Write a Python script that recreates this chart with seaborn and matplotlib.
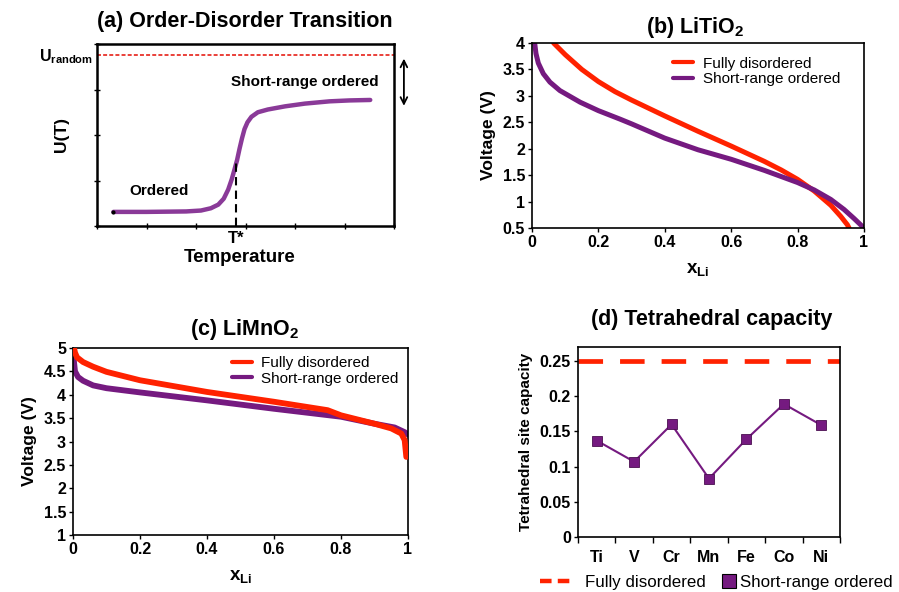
import numpy as np
import pandas as pd
import matplotlib
matplotlib.use("Agg")
import matplotlib.pyplot as plt
import seaborn as sns
from matplotlib.lines import Line2D

# ---------------- data ----------------
# (a) schematic order-disorder transition
a_temp = [0.33, 1.0, 1.8, 2.1, 2.3, 2.45, 2.56, 2.65, 2.72, 2.78, 2.83, 2.88, 2.93,
          2.98, 3.04, 3.12, 3.25, 3.45, 3.8, 4.2, 4.7, 5.1, 5.52]
a_energy = [0.31, 0.31, 0.32, 0.34, 0.39, 0.47, 0.6, 0.8, 1.02, 1.25, 1.45, 1.7, 1.93,
            2.13, 2.28, 2.4, 2.5, 2.56, 2.63, 2.69, 2.74, 2.76, 2.77]
a_urandom = 3.76
a_tstar = 2.81
a_tstar_u = 1.45

# (b) LiTiO2
b_fd_x = [0.065, 0.1, 0.15, 0.2, 0.25, 0.3, 0.4, 0.5, 0.6, 0.7, 0.75, 0.8, 0.85, 0.9,
          0.93, 0.95, 0.955]
b_fd_v = [4.0, 3.78, 3.5, 3.27, 3.08, 2.92, 2.62, 2.33, 2.05, 1.76, 1.6, 1.42, 1.2,
          0.93, 0.72, 0.56, 0.5]
b_sro_x = [0.008, 0.012, 0.019, 0.034, 0.054, 0.084, 0.145, 0.2, 0.265, 0.3, 0.4, 0.5,
           0.6, 0.7, 0.8, 0.85, 0.9, 0.94, 0.97, 0.99, 1.0]
b_sro_v = [4.0, 3.8, 3.62, 3.42, 3.26, 3.1, 2.88, 2.72, 2.56, 2.47, 2.2, 1.98, 1.8,
           1.59, 1.36, 1.22, 1.04, 0.85, 0.68, 0.56, 0.5]

# (c) LiMnO2
c_fd_x = [0.003, 0.006, 0.012, 0.03, 0.06, 0.1, 0.2, 0.4, 0.6, 0.76, 0.8, 0.9, 0.95,
          0.98, 0.99, 0.995]
c_fd_v = [5.0, 4.9, 4.8, 4.7, 4.6, 4.49, 4.31, 4.06, 3.85, 3.67, 3.56, 3.38, 3.28,
          3.17, 3.03, 2.67]
c_sro_x = [0.001, 0.003, 0.006, 0.015, 0.03, 0.06, 0.1, 0.2, 0.4, 0.6, 0.8, 0.9, 0.96,
           0.99, 1.0]
c_sro_v = [4.95, 4.7, 4.5, 4.38, 4.3, 4.2, 4.14, 4.05, 3.88, 3.7, 3.53, 3.38, 3.3,
           3.2, 3.15]

# (d) tetrahedral capacity
d_metals = ["Ti", "V", "Cr", "Mn", "Fe", "Co", "Ni"]
d_sro = [0.137, 0.107, 0.160, 0.083, 0.139, 0.189, 0.159]
d_fd = 0.25

RED = "#FF2200"
PURPLE = "#751A80"
PURPLE_A = "#8A3A98"

sns.set_theme(style="ticks")
plt.rcParams["font.family"] = ["Liberation Sans", "DejaVu Sans"]
plt.rcParams["mathtext.fontset"] = "custom"
plt.rcParams["mathtext.rm"] = "Liberation Sans"
plt.rcParams["mathtext.bf"] = "Liberation Sans:bold"
plt.rcParams["axes.linewidth"] = 1.2
plt.rcParams["axes.edgecolor"] = "black"
for k in ["text.color", "axes.labelcolor", "xtick.color", "ytick.color"]:
    plt.rcParams[k] = "black"

W, H = 899, 592
fig = plt.figure(figsize=(W / 100, H / 100), dpi=100)
TICK = 11.5
TITLE = 15.5


def box(l, r, t, b):
    return [l / W, (H - b) / H, (r - l) / W, (b - t) / H]


def style_ticks(ax, size=TICK):
    ax.tick_params(direction="out", length=3, width=1, colors="black",
                   labelsize=size, pad=2)
    for lab in ax.get_xticklabels() + ax.get_yticklabels():
        lab.set_fontweight("bold")


# ---------------- (a) ----------------
axA = fig.add_axes(box(97, 394, 44, 226))
dfa = pd.DataFrame({"T": a_temp, "U": a_energy})
sns.lineplot(data=dfa, x="T", y="U", ax=axA, color=PURPLE_A, lw=3.2,
             sort=False, estimator=None, solid_capstyle="round",
             solid_joinstyle="round")
axA.plot([a_temp[0]], [a_energy[0]], marker="o", ms=2, color="black")
axA.axhline(a_urandom, color="#E8322A", lw=1.3, ls=(0, (2.2, 1.2)))
axA.plot([a_tstar, a_tstar], [0, a_tstar_u], color="black", lw=1.5, ls=(0, (4, 2.5)))
axA.set_xlim(0, 6)
axA.set_ylim(0, 4)
axA.set_xticks(range(0, 7))
axA.set_yticks(range(0, 5))
axA.set_xticklabels([])
axA.set_yticklabels([])
axA.tick_params(direction="inout", length=4, width=1, colors="black")
for s in axA.spines.values():
    s.set_linewidth(1.8)
axA.set_xlabel("")
axA.set_ylabel("")
axA.text(4.2, 3.16, "Short-range ordered", ha="center", va="center",
         fontsize=11, fontweight="bold")
axA.text(1.25, 0.77, "Ordered", ha="center", va="center",
         fontsize=11, fontweight="bold")
axA.text(a_tstar, -0.1, "T*", ha="center", va="top", fontsize=12, fontweight="bold")
axA.annotate("", xy=(6.2, 3.74), xytext=(6.2, 2.58), xycoords="data",
             arrowprops=dict(arrowstyle="<->", color="black", lw=1.3,
                             mutation_scale=12), annotation_clip=False)
fig.text(240 / W, 1 - 257 / H, "Temperature", ha="center", va="center",
         fontsize=13.5, fontweight="bold")
fig.text(62 / W, 1 - 134 / H, "U(T)", ha="center", va="center", rotation=90,
         fontsize=12.5, fontweight="bold")
fig.text(93 / W, 1 - 57 / H, r"$\mathbf{U_{random}}$", ha="right", va="center",
         fontsize=11.5)
fig.text(245 / W, 1 - 21 / H, "(a) Order-Disorder Transition", ha="center",
         va="center", fontsize=TITLE, fontweight="bold")

# ---------------- (b) ----------------
axB = fig.add_axes(box(532, 864, 43, 228))
dfb = pd.concat([
    pd.DataFrame({"x": b_fd_x, "V": b_fd_v, "s": "Fully disordered"}),
    pd.DataFrame({"x": b_sro_x, "V": b_sro_v, "s": "Short-range ordered"}),
])
sns.lineplot(data=dfb, x="x", y="V", hue="s", palette=[RED, PURPLE], lw=3.6,
             sort=False, estimator=None, ax=axB)
axB.set_xlim(0, 1)
axB.set_ylim(0.5, 4)
axB.set_xticks([0, 0.2, 0.4, 0.6, 0.8, 1])
axB.set_xticklabels(["0", "0.2", "0.4", "0.6", "0.8", "1"])
axB.set_yticks([0.5, 1, 1.5, 2, 2.5, 3, 3.5, 4])
axB.set_yticklabels(["0.5", "1", "1.5", "2", "2.5", "3", "3.5", "4"])
style_ticks(axB)
axB.set_xlabel(r"$\mathbf{x_{Li}}$", fontsize=13.5, labelpad=8)
axB.set_ylabel("Voltage (V)", fontsize=12.5, fontweight="bold", labelpad=5)
lg = axB.legend(loc="upper right", bbox_to_anchor=(0.955, 0.975), frameon=False,
                fontsize=11, handlelength=1.3, handletextpad=0.6, labelspacing=0.1,
                borderaxespad=0.2)
for h in lg.get_lines():
    h.set_linewidth(3)
fig.text(695 / W, 1 - 27 / H, r"(b) LiTiO$_\mathbf{2}$", ha="center", va="center",
         fontsize=TITLE, fontweight="bold")

# ---------------- (c) ----------------
axC = fig.add_axes(box(73, 408, 348, 535))
dfc = pd.concat([
    pd.DataFrame({"x": c_sro_x, "V": c_sro_v, "s": "Short-range ordered"}),
    pd.DataFrame({"x": c_fd_x, "V": c_fd_v, "s": "Fully disordered"}),
])
sns.lineplot(data=dfc, x="x", y="V", hue="s",
             palette={"Fully disordered": RED, "Short-range ordered": PURPLE},
             hue_order=["Fully disordered", "Short-range ordered"],
             lw=4.2, sort=False, estimator=None, ax=axC, legend=False)
for ln in axC.lines:
    if matplotlib.colors.to_hex(ln.get_color()).lower() == RED.lower():
        ln.set_zorder(3)
axC.set_xlim(0, 1)
axC.set_ylim(1, 5)
axC.set_xticks([0, 0.2, 0.4, 0.6, 0.8, 1])
axC.set_xticklabels(["0", "0.2", "0.4", "0.6", "0.8", "1"])
axC.set_yticks([1, 1.5, 2, 2.5, 3, 3.5, 4, 4.5, 5])
axC.set_yticklabels(["1", "1.5", "2", "2.5", "3", "3.5", "4", "4.5", "5"])
style_ticks(axC)
axC.set_xlabel(r"$\mathbf{x_{Li}}$", fontsize=13.5, labelpad=8)
axC.set_ylabel("Voltage (V)", fontsize=12.5, fontweight="bold", labelpad=5)
hc = [Line2D([], [], color=RED, lw=3), Line2D([], [], color=PURPLE, lw=3)]
axC.legend(hc, ["Fully disordered", "Short-range ordered"], loc="upper right",
           bbox_to_anchor=(1.0, 1.005), frameon=False, fontsize=11,
           handlelength=1.3, handletextpad=0.6, labelspacing=0.1, borderaxespad=0.2)
fig.text(245 / W, 1 - 329 / H, r"(c) LiMnO$_\mathbf{2}$", ha="center", va="center",
         fontsize=TITLE, fontweight="bold")

# ---------------- (d) ----------------
axD = fig.add_axes(box(578, 840, 347, 537))
dfd = pd.DataFrame({"metal": d_metals, "cap": d_sro})
sns.lineplot(data=dfd, x="metal", y="cap", ax=axD, color=PURPLE, lw=1.5,
             marker="s", markersize=7, markeredgecolor="#4A0F50",
             markeredgewidth=0.6, sort=False)
axD.axhline(d_fd, color=RED, lw=3.4, ls=(0, (5.2, 3.6)))
axD.set_xlim(-0.5, 6.5)
axD.set_ylim(0, 0.27)
axD.set_yticks([0, 0.05, 0.1, 0.15, 0.2, 0.25])
axD.set_yticklabels(["0", "0.05", "0.1", "0.15", "0.2", "0.25"])
axD.set_xticks(range(7))
axD.set_xticks(np.arange(-0.5, 7, 1), minor=True)
style_ticks(axD)
axD.tick_params(axis="x", which="major", length=0, pad=9)
axD.tick_params(axis="x", which="minor", direction="out", length=4, width=1,
                colors="black")
axD.set_xlabel("")
axD.set_ylabel("Tetrahedral site capacity", fontsize=11, fontweight="bold",
               labelpad=5)
h1 = [Line2D([], [], color=RED, lw=3.2, ls=(0, (2.6, 1.4)))]
h2 = [Line2D([], [], color=PURPLE, marker="s", ls="none", markersize=10,
             markeredgecolor="black", markeredgewidth=0.8)]
fig.legend(h1, ["Fully disordered"], loc="center left",
           bbox_to_anchor=(528 / W, 1 - 582 / H), frameon=False,
           fontsize=12.2, handlelength=2.1, handletextpad=0.55, borderpad=0.2)
fig.legend(h2, ["Short-range ordered"], loc="center left",
           bbox_to_anchor=(710 / W, 1 - 582 / H), frameon=False,
           fontsize=12.2, handlelength=0.9, handletextpad=0.15, borderpad=0.2)
fig.text(712 / W, 1 - 320 / H, "(d) Tetrahedral capacity", ha="center",
         va="center", fontsize=TITLE, fontweight="bold")

fig.savefig("out.png", dpi=100, facecolor="white")
